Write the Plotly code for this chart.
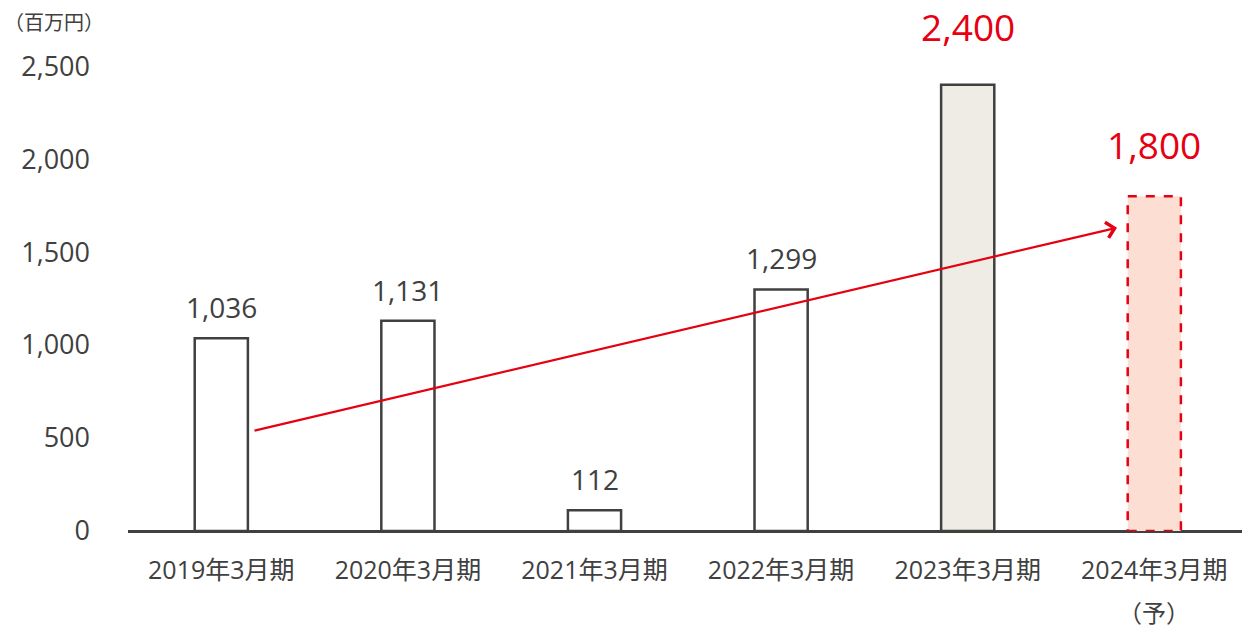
import plotly.graph_objects as go

categories = ["2019年3月期", "2020年3月期", "2021年3月期", "2022年3月期", "2023年3月期", "2024年3月期"]
forecast_note = "（予）"
values = [1036, 1131, 112, 1299, 2400, 1800]
value_labels = ["1,036", "1,131", "112", "1,299", "2,400", "1,800"]
y_ticks = [0, 500, 1000, 1500, 2000, 2500]
y_tick_labels = ["0", "500", "1,000", "1,500", "2,000", "2,500"]
unit_label = "（百万円）"

# arrow (data coordinates)
arrow_start = (0.17, 538)
arrow_end = (4.80, 1631)

BAR_W = 0.285
DARK = "#404040"
RED = "#E60012"
FONT = "Open Sans, Noto Sans CJK JP, sans-serif"

fills = ["#FFFFFF", "#FFFFFF", "#FFFFFF", "#FFFFFF", "#EFECE5", "#FCDFD2"]
line_w = [2.5, 2.5, 2.5, 2.5, 2.5, 0]

xs = list(range(len(categories)))

fig = go.Figure()
fig.add_trace(go.Bar(
    x=xs, y=values, width=BAR_W,
    marker=dict(color=fills, line=dict(color=DARK, width=line_w)),
    hoverinfo="skip", showlegend=False,
))

# dashed outline for forecast bar
i = len(values) - 1
fig.add_shape(type="rect", xref="x", yref="y",
              x0=xs[i] - BAR_W / 2, x1=xs[i] + BAR_W / 2, y0=0, y1=values[i],
              line=dict(color=RED, width=2.5, dash="dash"), fillcolor="rgba(0,0,0,0)")

# value labels
for j, (v, lab) in enumerate(zip(values, value_labels)):
    if j >= 4:
        fig.add_annotation(x=xs[j], y=v, text=lab, showarrow=False, yanchor="bottom",
                           yshift=31 if j == 4 else 24,
                           font=dict(size=37, color=RED, family=FONT))
    else:
        fig.add_annotation(x=xs[j], y=v, text=lab, showarrow=False, yanchor="bottom",
                           yshift=10, font=dict(size=28, color=DARK, family=FONT))

# forecast note under last category
fig.add_annotation(x=xs[-1], y=0, text=forecast_note, showarrow=False, yanchor="middle",
                   yshift=-81, font=dict(size=24, color=DARK, family=FONT))

# arrow
fig.add_annotation(x=arrow_end[0], y=arrow_end[1], ax=arrow_start[0], ay=arrow_start[1],
                   xref="x", yref="y", axref="x", ayref="y", text="", showarrow=True,
                   arrowhead=4, arrowsize=1.4, arrowwidth=2.2, arrowcolor=RED)

fig.add_annotation(xref="paper", yref="paper", x=0, y=1.0, xanchor="left", yanchor="middle",
                   xshift=-126, yshift=-21, text=unit_label, showarrow=False,
                   font=dict(size=20, color=DARK, family=FONT))

fig.update_layout(
    width=1242, height=628,
    margin=dict(l=128, r=0, t=1, b=97),
    paper_bgcolor="white", plot_bgcolor="white",
    font=dict(family=FONT, color=DARK),
    xaxis=dict(tickmode="array", tickvals=xs, ticktext=categories, range=[-0.5, 5.47],
               showgrid=False, zeroline=False, showline=False, ticks="",
               ticklabelstandoff=22,
               tickfont=dict(size=25, color=DARK, family=FONT)),
    yaxis=dict(range=[0, 2850], tickmode="array", tickvals=y_ticks, ticktext=y_tick_labels,
               showgrid=False, zeroline=True, zerolinecolor=DARK, zerolinewidth=2.5,
               showline=False, ticks="", ticklabelstandoff=37,
               tickfont=dict(size=27, color=DARK, family=FONT)),
)

fig.write_html("out.html", config={"displayModeBar": False},
               post_script="document.body.style.margin='0px';")
